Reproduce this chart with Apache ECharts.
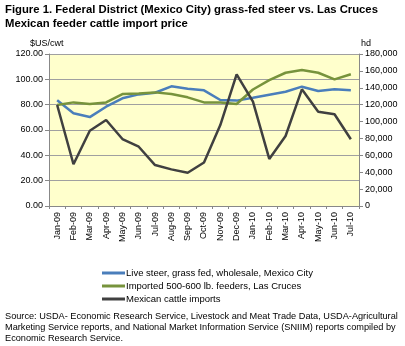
<!DOCTYPE html>
<html><head><meta charset="utf-8">
<script src="https://cdn.jsdelivr.net/npm/echarts@6/dist/echarts.min.js"></script>
<style>html,body{margin:0;padding:0;background:#fff}#c{width:405px;height:346px}</style>
</head><body><div id="c"></div>
<script>
var categories = ['Jan-09','Feb-09','Mar-09','Apr-09','May-09','Jun-09','Jul-09','Aug-09','Sep-09','Oct-09','Nov-09','Dec-09','Jan-10','Feb-10','Mar-10','Apr-10','May-10','Jun-10','Jul-10'];
var liveSteer = [83.5,73.2,70.2,78.4,85.0,88.1,89.4,94.5,92.6,91.3,83.7,83.2,85.5,87.9,90.2,94.2,90.8,92.1,91.3];
var lasCruces = [79.7,81.8,80.5,81.8,88.4,88.9,89.7,88.4,85.8,81.8,81.8,80.5,92.0,99.4,105.2,107.3,105.2,100.0,104.0];
var imports = [119600,49400,89200,101800,79300,70200,48500,43400,39400,51500,95900,156000,123500,55700,82900,138200,111700,108600,79000];
var leftTicks = {min:0, max:120, interval:20};
var rightTicks = {min:0, max:180000, interval:20000};
var seriesNames = ['Live steer, grass fed, wholesale, Mexico City','Imported 500-600 lb. feeders, Las Cruces','Mexican cattle imports'];
var titleLines = ['Figure 1. Federal District (Mexico City) grass-fed steer vs. Las Cruces','Mexican feeder cattle import price'];
var sourceLines = ['Source: USDA- Economic Research Service, Livestock and Meat Trade Data, USDA-Agricultural','Marketing Service reports, and National Market Information Service (SNIIM) reports compiled by','Economic Research Service.'];

var F = 'Arial, "Liberation Sans", sans-serif';
var chart = echarts.init(document.getElementById('c'), null, {renderer:'canvas'});
chart.setOption({
  animation:false,
  textStyle:{fontFamily:F},
  graphic:[
    {type:'text', left:5, top:3, style:{text:titleLines.join('\n'), font:'bold 11.3px '+F, fill:'#000', lineHeight:14}},
    {type:'text', left:30, top:39, style:{text:'$US/cwt', font:'9px '+F, fill:'#000'}},
    {type:'text', left:361, top:39, style:{text:'hd', font:'9px '+F, fill:'#000'}},
    {type:'text', left:5, top:311, style:{text:sourceLines.join('\n'), font:'9.2px '+F, fill:'#000', lineHeight:11}}
  ],
  grid:{left:49, right:46, top:54, height:152, backgroundColor:'#FFFFCC', show:true, borderWidth:0},
  legend:{
    orient:'vertical', left:97, top:263, itemGap:3, itemWidth:23, itemHeight:3,
    icon:'rect', textStyle:{fontSize:9.5, fontFamily:F, color:'#000', padding:[0,0,0,-4]},
    data:seriesNames
  },
  xAxis:{
    type:'category', data:categories, boundaryGap:true,
    axisLine:{lineStyle:{color:'#888', width:1}},
    axisTick:{show:true, alignWithLabel:false, length:3, lineStyle:{color:'#888'}},
    axisLabel:{rotate:90, fontSize:9, color:'#000', fontFamily:F, interval:0, margin:6}
  },
  yAxis:[
    {type:'value', min:leftTicks.min, max:leftTicks.max, interval:leftTicks.interval,
     axisLine:{show:true, lineStyle:{color:'#888'}}, axisTick:{show:true, length:4, lineStyle:{color:'#888'}},
     splitLine:{show:true, lineStyle:{color:'#a0a0a0', width:1}},
     axisLabel:{fontSize:9, color:'#000', fontFamily:F, margin:6, formatter:function(v){return v.toFixed(2);}}},
    {type:'value', min:rightTicks.min, max:rightTicks.max, interval:rightTicks.interval, position:'right',
     axisLine:{show:true, lineStyle:{color:'#888'}}, axisTick:{show:true, length:4, lineStyle:{color:'#888'}},
     splitLine:{show:false},
     axisLabel:{fontSize:9, color:'#000', fontFamily:F, margin:6, formatter:function(v){return v.toLocaleString('en-US');}}}
  ],
  series:[
    {name:seriesNames[0], type:'line', data:liveSteer, yAxisIndex:0, symbol:'none', lineStyle:{color:'#4A7EBB', width:2.5}, itemStyle:{color:'#4A7EBB'}},
    {name:seriesNames[1], type:'line', data:lasCruces, yAxisIndex:0, symbol:'none', lineStyle:{color:'#77933C', width:2.5}, itemStyle:{color:'#77933C'}},
    {name:seriesNames[2], type:'line', data:imports, yAxisIndex:1, symbol:'none', lineStyle:{color:'#404040', width:2.5}, itemStyle:{color:'#404040'}}
  ]
});
</script></body></html>
